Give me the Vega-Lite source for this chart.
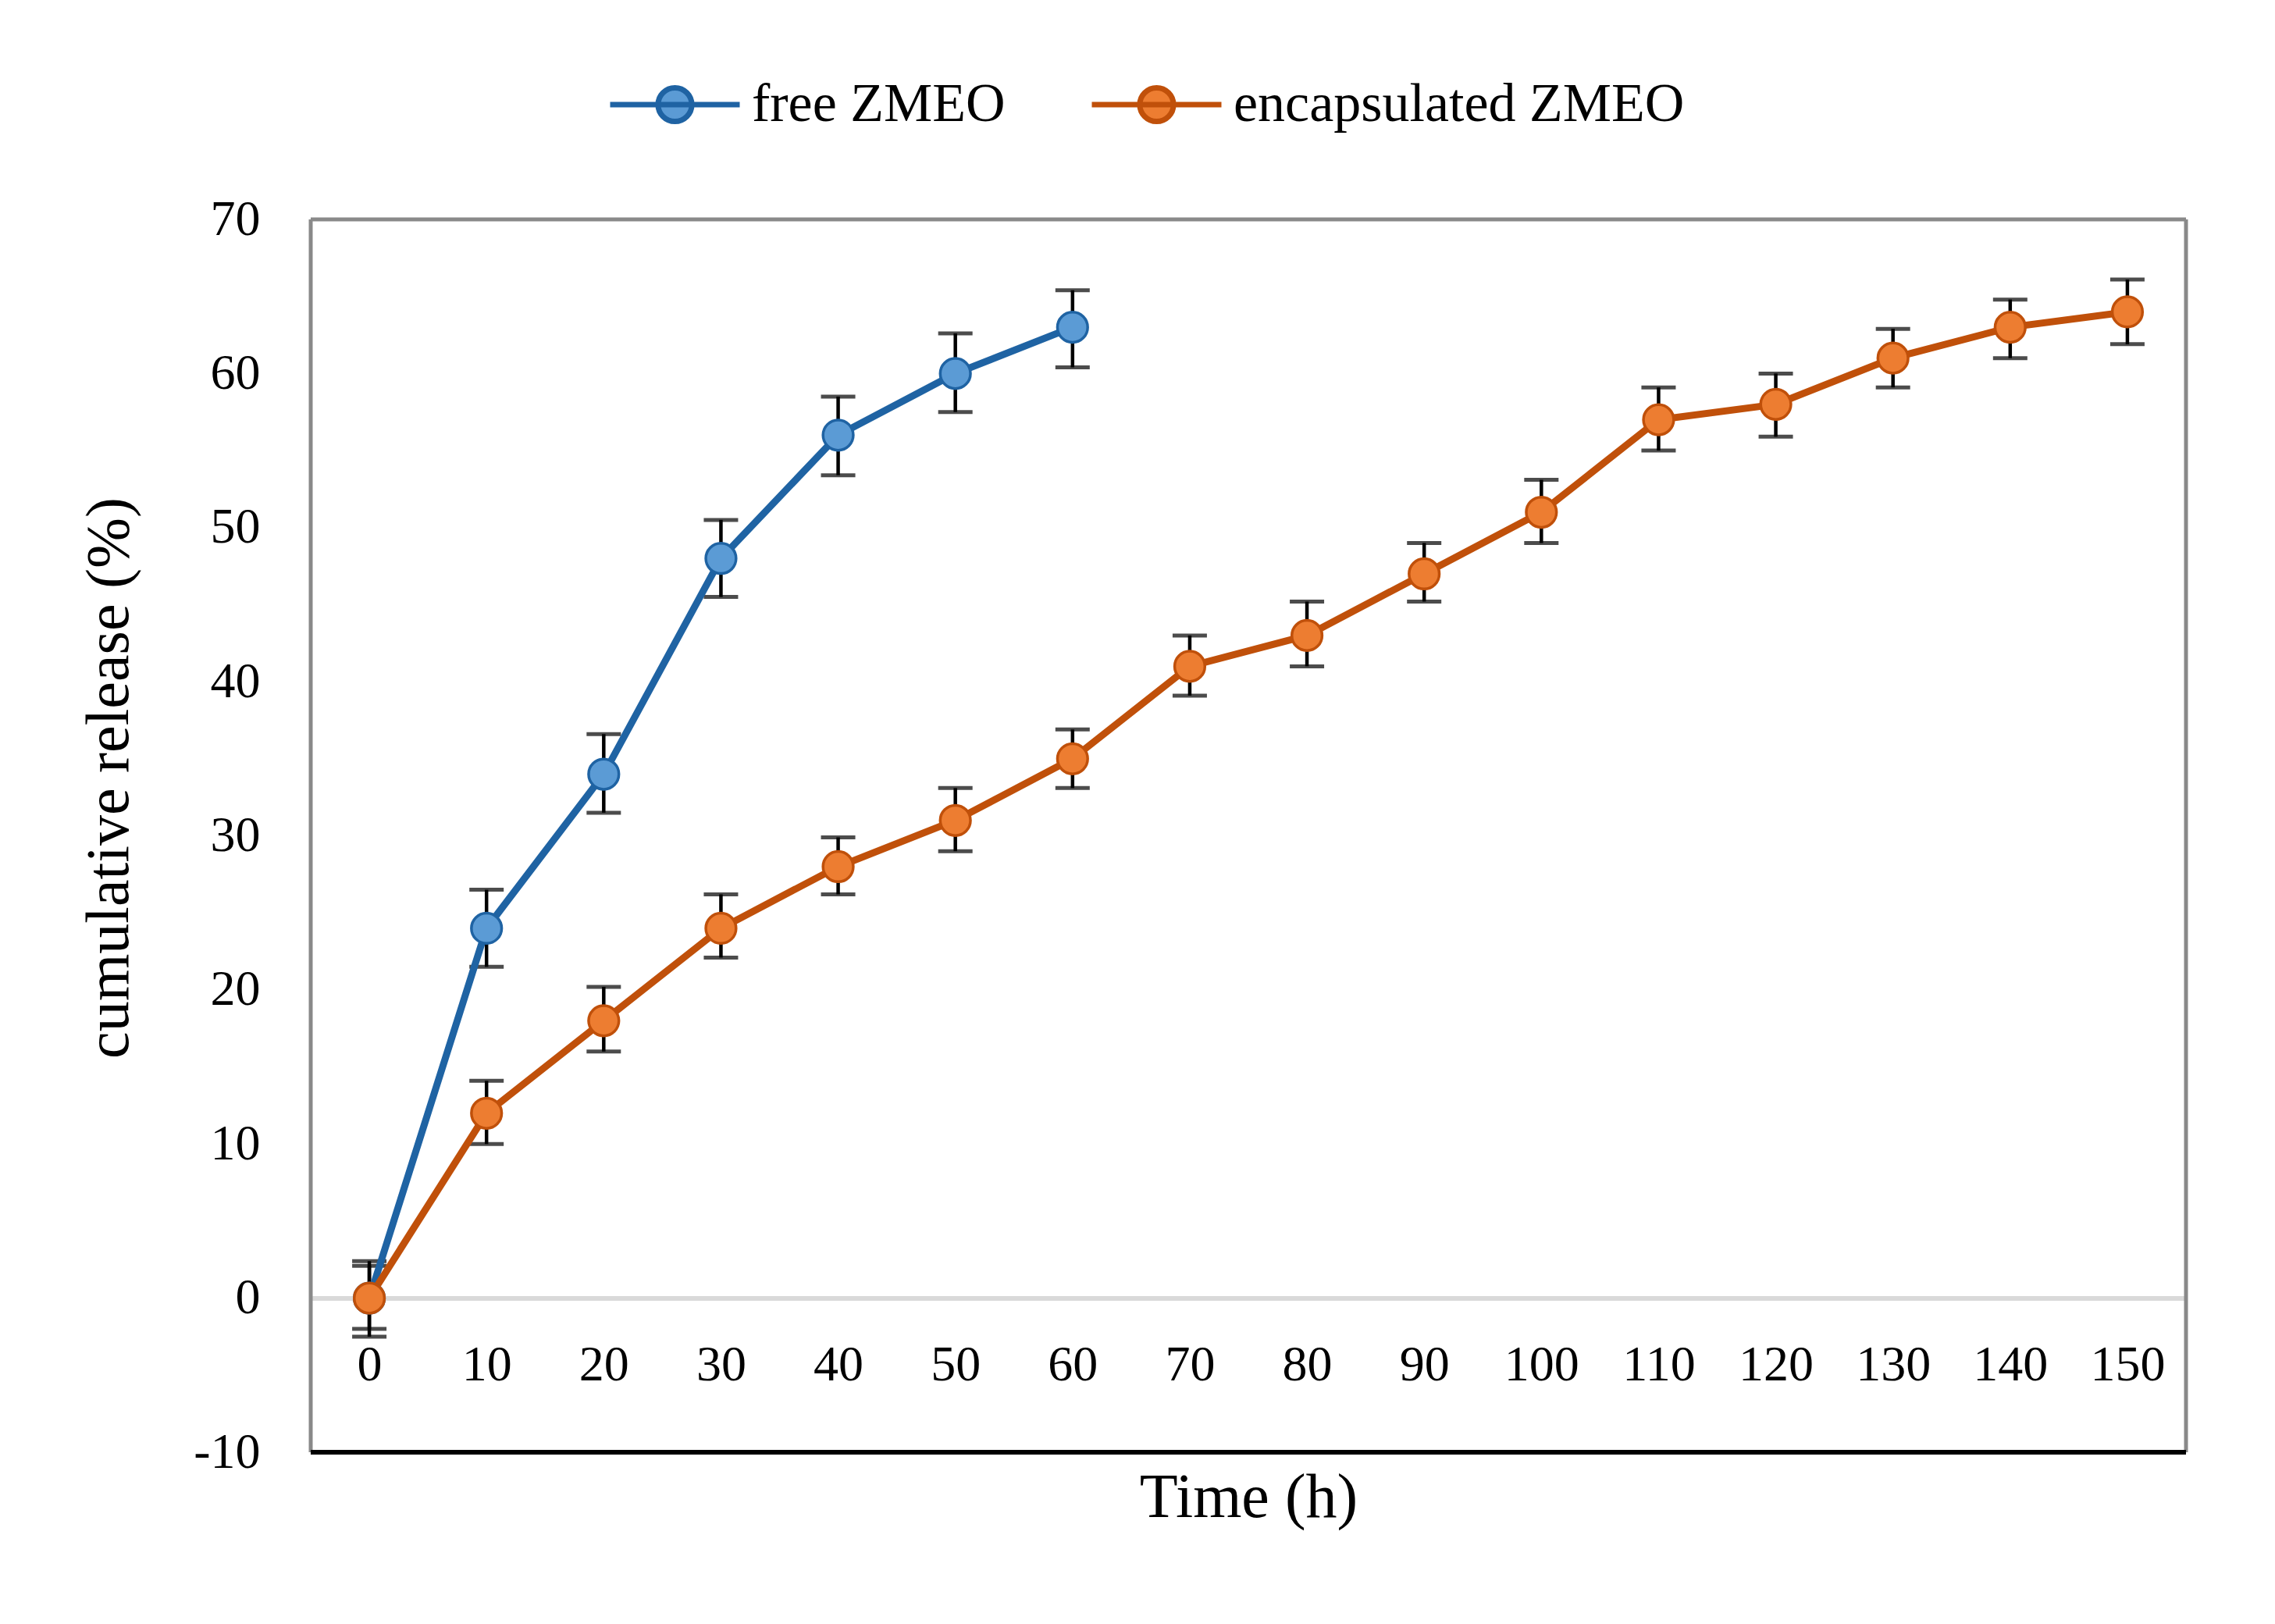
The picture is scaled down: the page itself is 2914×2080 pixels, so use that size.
{
  "$schema": "https://vega.github.io/schema/vega-lite/v6.json",
  "width": 2402,
  "height": 1579,
  "autosize": {"type": "none"},
  "padding": {"left": 398, "top": 281, "right": 114, "bottom": 220},
  "background": "white",
  "config": {
    "view": {"stroke": null},
    "font": "Liberation Serif"
  },
  "data": {
    "values": [
      {"series": "free ZMEO", "t": 0, "v": 0, "lo": -2.5, "hi": 2.4},
      {"series": "free ZMEO", "t": 10, "v": 24, "lo": 21.5, "hi": 26.5},
      {"series": "free ZMEO", "t": 20, "v": 34, "lo": 31.5, "hi": 36.6},
      {"series": "free ZMEO", "t": 30, "v": 48, "lo": 45.5, "hi": 50.5},
      {"series": "free ZMEO", "t": 40, "v": 56, "lo": 53.4, "hi": 58.5},
      {"series": "free ZMEO", "t": 50, "v": 60, "lo": 57.5, "hi": 62.6},
      {"series": "free ZMEO", "t": 60, "v": 63, "lo": 60.4, "hi": 65.4},
      {"series": "encapsulated ZMEO", "t": 0, "v": 0, "lo": -2.0, "hi": 2.1},
      {"series": "encapsulated ZMEO", "t": 10, "v": 12, "lo": 10.0, "hi": 14.1},
      {"series": "encapsulated ZMEO", "t": 20, "v": 18, "lo": 16.0, "hi": 20.2},
      {"series": "encapsulated ZMEO", "t": 30, "v": 24, "lo": 22.1, "hi": 26.2},
      {"series": "encapsulated ZMEO", "t": 40, "v": 28, "lo": 26.2, "hi": 29.9},
      {"series": "encapsulated ZMEO", "t": 50, "v": 31, "lo": 29.0, "hi": 33.1},
      {"series": "encapsulated ZMEO", "t": 60, "v": 35, "lo": 33.1, "hi": 36.9},
      {"series": "encapsulated ZMEO", "t": 70, "v": 41, "lo": 39.1, "hi": 43.0},
      {"series": "encapsulated ZMEO", "t": 80, "v": 43, "lo": 41.0, "hi": 45.2},
      {"series": "encapsulated ZMEO", "t": 90, "v": 47, "lo": 45.2, "hi": 49.0},
      {"series": "encapsulated ZMEO", "t": 100, "v": 51, "lo": 49.0, "hi": 53.1},
      {"series": "encapsulated ZMEO", "t": 110, "v": 57, "lo": 55.0, "hi": 59.1},
      {"series": "encapsulated ZMEO", "t": 120, "v": 58, "lo": 55.9, "hi": 60.0},
      {"series": "encapsulated ZMEO", "t": 130, "v": 61, "lo": 59.1, "hi": 62.9},
      {"series": "encapsulated ZMEO", "t": 140, "v": 63, "lo": 61.0, "hi": 64.8},
      {"series": "encapsulated ZMEO", "t": 150, "v": 64, "lo": 61.9, "hi": 66.1}
    ]
  },
  "layer": [
    {
      "mark": {"type": "rule", "color": "#000000", "strokeWidth": 4.5},
      "encoding": {
        "x": {
          "field": "t",
          "type": "quantitative",
          "scale": {"domain": [-5, 155], "nice": false, "zero": false},
          "axis": {
            "orient": "bottom",
            "offset": -197.4,
            "values": [0, 10, 20, 30, 40, 50, 60, 70, 80, 90, 100, 110, 120, 130, 140, 150],
            "domain": true,
            "domainColor": "#d9d9d9",
            "domainWidth": 6,
            "ticks": false,
            "tickSize": 0,
            "grid": false,
            "labelPadding": 105,
            "labelBaseline": "alphabetic",
            "labelFont": "Liberation Serif",
            "labelFontSize": 64,
            "labelColor": "#000000",
            "labelAngle": 0,
            "labelFlush": false,
            "labelOverlap": false,
            "title": "Time (h)",
            "titleFont": "Liberation Serif",
            "titleFontSize": 80,
            "titleFontWeight": "normal",
            "titleColor": "#000000",
            "titleBaseline": "alphabetic",
            "titleY": 280
          }
        },
        "y": {
          "field": "lo",
          "type": "quantitative",
          "title": "cumulative release (%)",
          "scale": {"domain": [-10, 70], "nice": false, "zero": false},
          "axis": {
            "values": [-10, 0, 10, 20, 30, 40, 50, 60, 70],
            "domain": false,
            "ticks": false,
            "tickSize": 0,
            "grid": false,
            "labelPadding": 65,
            "labelExpr": "replace(datum.label, '\u2212', '-')",
            "labelFont": "Liberation Serif",
            "labelFontSize": 64,
            "labelColor": "#000000",
            "labelFlush": false,
            "labelOverlap": false,
            "titleFont": "Liberation Serif",
            "titleFontSize": 78,
            "titleFontWeight": "normal",
            "titleColor": "#000000",
            "titleAngle": -90,
            "titleAlign": "center",
            "titleBaseline": "alphabetic",
            "titleX": -235,
            "titleY": 715
          }
        },
        "y2": {"field": "hi"}
      }
    },
    {
      "mark": {"type": "tick", "orient": "horizontal", "size": 44, "thickness": 5, "color": "#000000"},
      "encoding": {
        "x": {"field": "t", "type": "quantitative", "title": "Time (h)"},
        "y": {"field": "lo", "type": "quantitative", "title": "cumulative release (%)"}
      }
    },
    {
      "mark": {"type": "tick", "orient": "horizontal", "size": 44, "thickness": 5, "color": "#000000"},
      "encoding": {
        "x": {"field": "t", "type": "quantitative", "title": "Time (h)"},
        "y": {"field": "hi", "type": "quantitative", "title": "cumulative release (%)"}
      }
    },
    {
      "mark": {"type": "line", "strokeWidth": 9},
      "encoding": {
        "x": {"field": "t", "type": "quantitative", "title": "Time (h)"},
        "y": {"field": "v", "type": "quantitative", "title": "cumulative release (%)"},
        "stroke": {
          "field": "series",
          "type": "nominal",
          "scale": {"domain": ["free ZMEO", "encapsulated ZMEO"], "range": ["#1F63A3", "#C0500A"]},
          "legend": {
            "orient": "none",
            "legendX": 380,
            "legendY": -234,
            "direction": "horizontal",
            "title": null,
            "padding": 0,
            "symbolType": "M-1,0L1,0M0.26,0A0.26,0.26,0,1,1,-0.26,0A0.26,0.26,0,1,1,0.26,0Z",
            "symbolSize": 27556,
            "symbolStrokeWidth": 7,
            "labelFont": "Liberation Serif",
            "labelFontSize": 70,
            "labelColor": "#000000",
            "labelLimit": 1000,
            "labelOffset": 12,
            "columnPadding": 96,
            "encode": {
              "symbols": {
                "update": {
                  "fill": {"signal": "datum.value === 'free ZMEO' ? '#5B9BD5' : '#ED7D31'"},
                  "fillOpacity": {"value": 1}
                }
              }
            }
          }
        },
        "detail": {"field": "series"}
      }
    },
    {
      "mark": {"type": "point", "shape": "circle", "filled": true, "size": 1500, "strokeWidth": 3.5, "opacity": 1},
      "encoding": {
        "x": {"field": "t", "type": "quantitative", "title": "Time (h)"},
        "y": {"field": "v", "type": "quantitative", "title": "cumulative release (%)"},
        "stroke": {"field": "series", "type": "nominal"},
        "fill": {
          "field": "series",
          "type": "nominal",
          "scale": {"domain": ["free ZMEO", "encapsulated ZMEO"], "range": ["#5B9BD5", "#ED7D31"]},
          "legend": null
        }
      }
    },
    {
      "data": {"values": [{"k": 1}]},
      "mark": {"type": "rule", "color": "#898989", "strokeWidth": 5},
      "encoding": {
        "y": {"datum": 70, "type": "quantitative", "title": "cumulative release (%)"}
      }
    },
    {
      "data": {"values": [{"k": 1}]},
      "mark": {"type": "rule", "color": "#898989", "strokeWidth": 5},
      "encoding": {
        "x": {"datum": -5, "type": "quantitative", "title": "Time (h)"}
      }
    },
    {
      "data": {"values": [{"k": 1}]},
      "mark": {"type": "rule", "color": "#898989", "strokeWidth": 5},
      "encoding": {
        "x": {"datum": 155, "type": "quantitative", "title": "Time (h)"}
      }
    },
    {
      "data": {"values": [{"k": 1}]},
      "mark": {"type": "rule", "color": "#000000", "strokeWidth": 6},
      "encoding": {
        "y": {"datum": -10, "type": "quantitative", "title": "cumulative release (%)"}
      }
    }
  ]
}
